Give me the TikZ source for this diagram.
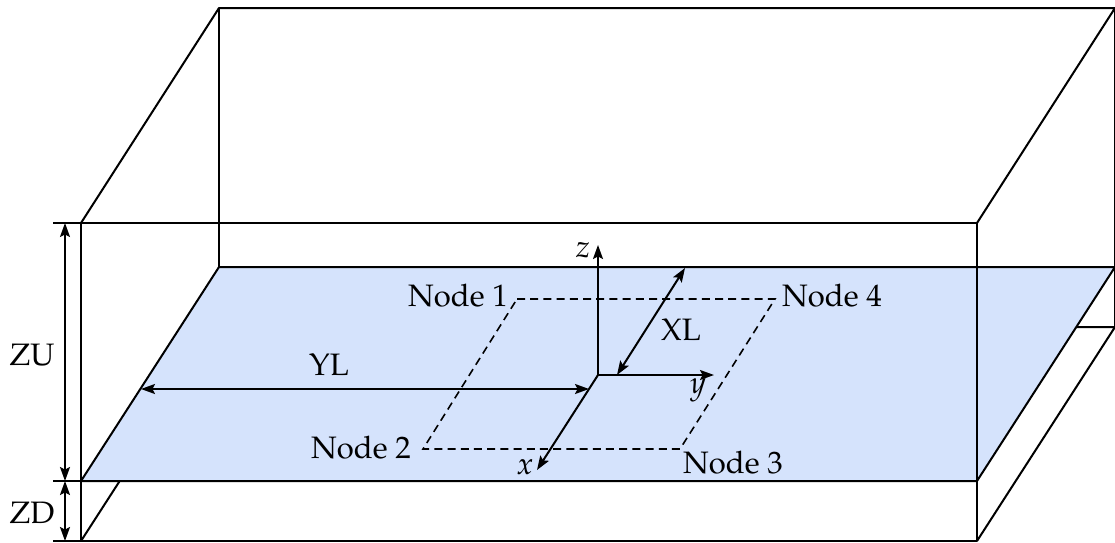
\documentclass[tikz,border=0pt]{standalone}
\usepackage[T1]{fontenc}
\usepackage{mathpazo}
\usetikzlibrary{arrows.meta}
\definecolor{planeblue}{RGB}{213,227,252}
\tikzset{
  edge/.style={line width=1pt, line join=round},
  dimarrow/.style={line width=1pt, {Stealth[length=7pt,width=5pt,inset=1.3pt]}-{Stealth[length=7pt,width=5pt,inset=1.3pt]}},
  axisarrow/.style={line width=1pt, -{Stealth[length=7pt,width=5pt,inset=1.3pt]}},
  dashline/.style={line width=0.8pt, dash pattern=on 4pt off 2.6pt},
  lbl/.style={inner sep=0pt, font=\fontsize{15.5}{18}\selectfont},
}
\begin{document}
\begin{tikzpicture}[x=0.5pt, y=-0.5pt]
\useasboundingbox (0,0) rectangle (1115,542);
% front corners
\coordinate (F1) at (81,223);
\coordinate (F2) at (977,223);
\coordinate (F3) at (977,481);
\coordinate (F4) at (81,481);
\coordinate (F5) at (81,541);
\coordinate (F6) at (977,541);
% back corners
\coordinate (B1) at (219,8);
\coordinate (B2) at (1115,8);
\coordinate (B3) at (1115,267);
\coordinate (B4) at (219,267);
\coordinate (B5) at (219,327);
\coordinate (B6) at (1115,327);
% hidden/back edges
\draw[edge] (F5) -- (B5) -- (B6) -- (F6);
\draw[edge] (B6) -- (B3);
\draw[edge] (F1) -- (B1) -- (B2) -- (F2);
\draw[edge] (B1) -- (B4);
\draw[edge] (B2) -- (B3);
% plane
\draw[edge, fill=planeblue] (F4) -- (F3) -- (B3) -- (B4) -- cycle;
% front face
\draw[edge] (F1) -- (F2) -- (F6) -- (F5) -- cycle;
\draw[edge] (F4) -- (F3);
% dashed node rectangle
\coordinate (N1) at (517,299);
\coordinate (N4) at (775,299);
\coordinate (N3) at (680,449);
\coordinate (N2) at (423,449);
\draw[dashline] (N1) -- (N4) -- (N3) -- (N2) -- cycle;
\node[lbl] (L1) at (458,296) {Node 1};
\node[lbl] (L4) at (832,296) {Node 4};
\node[lbl] (L2) at (361,448) {Node 2};
\node[lbl] (L3) at (733,463) {Node 3};
% axes
\coordinate (O) at (598,375);
\coordinate (Z) at (598,245);
\coordinate (Y) at (714,375);
\coordinate (X) at (537,470);
\draw[axisarrow] (O) -- (Z);
\draw[axisarrow] (O) -- (Y);
\draw[axisarrow] (O) -- (X);
\node[lbl] (zl) at (583,250) {$z$};
\node[lbl] (yl) at (698,390) {$y$};
\node[lbl] (xl) at (525,467) {$x$};
% XL
\coordinate (XLa) at (617,375);
\coordinate (XLb) at (685,268);
\draw[dimarrow] (XLa) -- (XLb);
\node[lbl] (xlt) at (681,330) {XL};
% YL
\coordinate (YLa) at (141,389);
\coordinate (YLb) at (589,389);
\draw[dimarrow] (YLa) -- (YLb);
\node[lbl] (ylt) at (329,365) {YL};
% ZU / ZD
\coordinate (T1a) at (53,223);
\coordinate (T2a) at (53,481);
\coordinate (T3a) at (53,541);
\draw[edge] (T1a) -- (F1);
\draw[edge] (T2a) -- (F4);
\draw[edge] (T3a) -- (F5);
\coordinate (ZUa) at (65,223);
\coordinate (ZUb) at (65,481);
\coordinate (ZDb) at (65,541);
\draw[dimarrow] (ZUa) -- (ZUb);
\draw[dimarrow] (ZUb) -- (ZDb);
\node[lbl] (zut) at (32,355) {ZU};
\node[lbl] (zdt) at (32,513) {ZD};
\end{tikzpicture}
\end{document}
